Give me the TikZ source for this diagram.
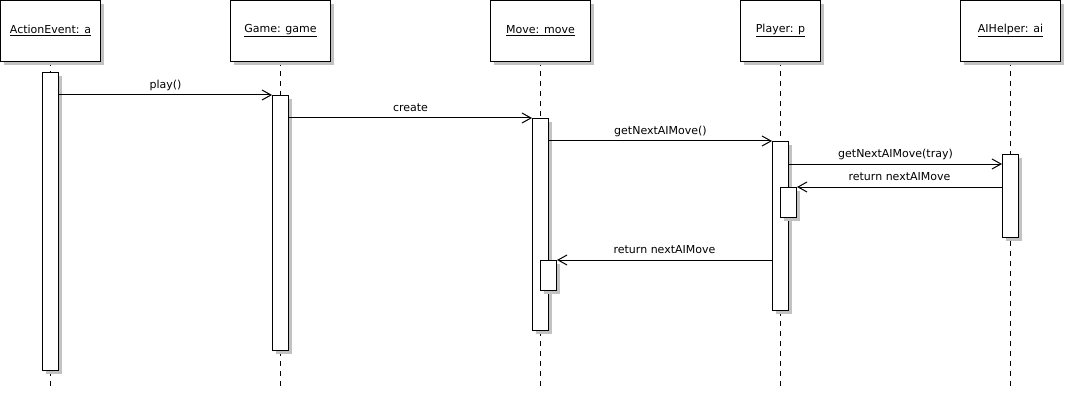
\documentclass[tikz,border=0pt]{standalone}
\usepackage{fontspec}
\setmainfont{DejaVu Sans}
\usetikzlibrary{
  arrows.meta,
  positioning,
  shadows,
  calc
}
\usepackage{xcolor}
\definecolor{shadowGray}{rgb}{0.76,0.76,0.76}
\tikzset{
  objHead/.style={
    rectangle,
    draw,
    fill=white,
    line width=1pt,
    minimum height=61pt,
    inner sep=0pt,
    general shadow={shadow xshift=3.5pt, shadow yshift=-3.5pt, fill=shadowGray}
  }
}
\tikzset{
  actBar/.style={
    rectangle,
    draw,
    fill=white,
    line width=1pt,
    minimum width=16pt,
    inner sep=0pt,
    anchor=north,
    general shadow={shadow xshift=3.5pt, shadow yshift=-3.5pt, fill=shadowGray}
  }
}
\tikzset{
  lifeLine/.style={
    line width=1pt,
    dash pattern=on 5pt off 5pt
  },
  msg/.style={
    ->,
    line width=1pt
  },
  msgLabel/.style={
    above,
    inner sep=3pt,
    text depth=3pt
  }
}

\begin{document}
\begin{tikzpicture}[x=1pt, y=-1pt,
    >={Straight Barb[length=9pt,width=10pt]},
    font=\fontsize{11}{13}\selectfont]
    \useasboundingbox (0,0) rectangle (1065,401);

    % object heads and their lifelines
    \foreach \name/\x/\w/\txt in {ae/50.5/100/{ActionEvent: a},
      game/280.5/100/{Game: game}, move/540.5/100/{Move: move},
      player/780.5/80/{Player: p}, ai/1010.5/100/{AIHelper: ai}}{
      \coordinate (\name End) at (\x,390);
      \draw[lifeLine] (\x,61) -- (\name End);
      \node[objHead, minimum width=\w pt] (\name) at (\x,30.75)
        {\underline{\txt}};
    }

    % activation bars
    \foreach \name/\x/\top/\len in {aeBar/50.5/72/298,
      gameBar/280.5/95/255, moveBar/540.5/118/212,
      playerBar/780.5/141/169, aiBar/1010.5/154/83,
      playerSub/788.5/187/30, moveSub/548.5/260/30}{
      \node[actBar, minimum height=\len pt] (\name) at (\x,\top) {};
    }

    % messages
    \draw[msg] (aeBar.east |- gameBar.north) -- (gameBar.north west)
      node[msgLabel, midway] {play()};
    \draw[msg] (gameBar.east |- moveBar.north) -- (moveBar.north west)
      node[msgLabel, midway] {create};
    \draw[msg] (moveBar.east |- playerBar.north) -- (playerBar.north west)
      node[msgLabel, midway] {getNextAIMove()};
    \draw[msg] ($(playerBar.east |- aiBar.north)+(0,10)$)
      -- ($(aiBar.north west)+(0,10)$)
      node[msgLabel, midway] {getNextAIMove(tray)};
    \draw[msg] (aiBar.west |- playerSub.north) -- (playerSub.north east)
      node[msgLabel, midway] {return nextAIMove};
    \draw[msg] (playerBar.west |- moveSub.north) -- (moveSub.north east)
      node[msgLabel, midway] {return nextAIMove};
  \end{tikzpicture}
\end{document}
